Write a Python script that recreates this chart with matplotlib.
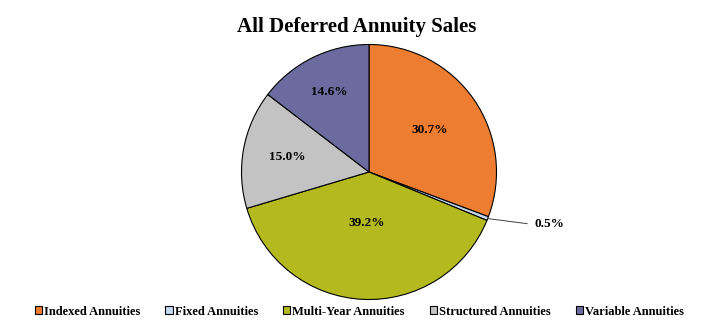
import numpy as np
import matplotlib.pyplot as plt
from matplotlib.patches import Patch

categorias = ['Indexed Annuities', 'Fixed Annuities', 'Multi-Year Annuities',
              'Structured Annuities', 'Variable Annuities']
valores = [30.7, 0.5, 39.2, 15.0, 14.6]
cores = ['#ED7D31', '#C6D9F0', '#B4B91E', '#C3C3C3', '#6B6B9F']
dist_rotulo = [0.58, None, 0.40, 0.65, 0.70]   # None -> rotulo fora com linha

plt.rcParams['font.family'] = ['Liberation Serif', 'DejaVu Serif']

fig = plt.figure(figsize=(7.2, 3.3), dpi=100)
cx, cy, r = 369, 172, 127.5   # centro e raio em pixels
ax = fig.add_axes([(cx - r) / 720, (330 - cy - r) / 330, 2 * r / 720, 2 * r / 330])

fatias, _ = ax.pie(valores, colors=cores, startangle=90, counterclock=False,
                   wedgeprops=dict(edgecolor='black', linewidth=0.8))
ax.set_xlim(-1, 1)
ax.set_ylim(-1, 1)
ax.set_aspect('equal')

for w, v, d in zip(fatias, valores, dist_rotulo):
    ang = np.deg2rad((w.theta1 + w.theta2) / 2)
    txt = f'{v:.1f}%'
    if d is not None:
        ax.text(d * np.cos(ang), d * np.sin(ang), txt, ha='center', va='center',
                fontsize=9.5, fontweight='bold')
    else:
        x0, y0 = np.cos(ang), np.sin(ang)
        ax.plot([x0, 1.24], [y0, y0 - 0.04], color='#404040', lw=0.7, clip_on=False)
        ax.text(1.3, y0 - 0.04, txt, ha='left', va='center', fontsize=9.5,
                fontweight='bold')

fig.text(0.496, 0.918, 'All Deferred Annuity Sales', ha='center', va='center',
         fontsize=15, fontweight='bold')

handles = [Patch(facecolor=c, edgecolor='black', linewidth=0.8) for c in cores]
fig.legend(handles, categorias, loc='center', bbox_to_anchor=(0.499, 0.055), ncol=5,
           frameon=False, handlelength=0.6, handleheight=0.6, handletextpad=0.15,
           columnspacing=2.0, prop=dict(size=9, weight='bold'))

plt.savefig('out.png', dpi=100)
